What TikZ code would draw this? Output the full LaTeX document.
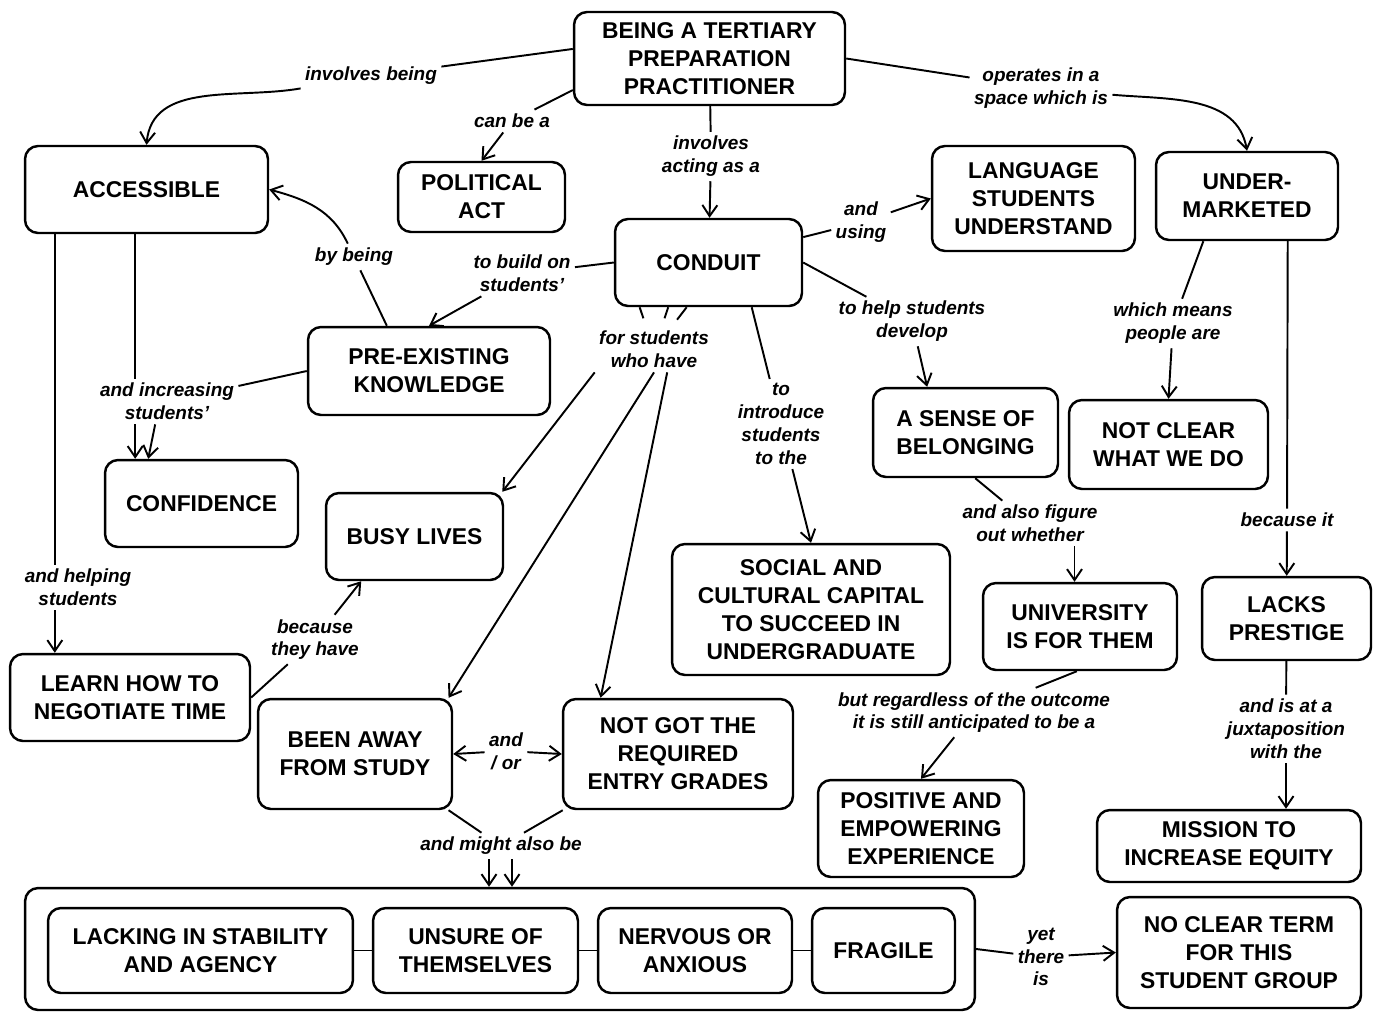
\documentclass[tikz,border=0pt]{standalone}
\usepackage{fontspec}
\setmainfont{Liberation Sans}
\usetikzlibrary{arrows.meta, positioning}
\def\boxR{0.26cm}
\newcommand{\conceptfont}{\fontsize{13}{16}\selectfont\bfseries}
\newcommand{\linkfont}{\fontsize{10.8}{13}\selectfont\bfseries\itshape}

\begin{document}
\begin{tikzpicture}[
    x=0.02cm, y=-0.02cm,
    line width=1.1pt,
    >={Straight Barb[length=2.2mm,width=3mm]},
    concept/.style={draw, line width=1.4pt, rounded corners=\boxR, align=center, font=\conceptfont, inner sep=0pt},
    link/.style={align=center, font=\linkfont, inner sep=2pt}
]
\useasboundingbox (0,0) rectangle (1378,1012);

% concepts
\node[concept, minimum width=5.42cm, minimum height=1.86cm] (top) at (709.5,58.5) {BEING A TERTIARY\\PREPARATION\\PRACTITIONER};
\node[concept, minimum width=4.86cm, minimum height=1.74cm] (acc) at (146.5,189.5) {ACCESSIBLE};
\node[concept, minimum width=3.34cm, minimum height=1.40cm] (pol) at (481.5,197) {POLITICAL\\ACT};
\node[concept, minimum width=3.74cm, minimum height=1.74cm] (con) at (708.5,262.5) {CONDUIT};
\node[concept, minimum width=4.06cm, minimum height=2.10cm] (lang) at (1033.5,198.5) {LANGUAGE\\STUDENTS\\UNDERSTAND};
\node[concept, minimum width=3.64cm, minimum height=1.76cm] (und) at (1247,196) {UNDER-\\MARKETED};
\node[concept, minimum width=4.84cm, minimum height=1.76cm] (pre) at (429,371) {PRE-EXISTING\\KNOWLEDGE};
\node[concept, minimum width=3.86cm, minimum height=1.74cm] (conf) at (201.5,503.5) {CONFIDENCE};
\node[concept, minimum width=3.54cm, minimum height=1.74cm] (busy) at (414.5,536.5) {BUSY LIVES};
\node[concept, minimum width=3.70cm, minimum height=1.78cm] (bel) at (965.5,432.5) {A SENSE OF\\BELONGING};
\node[concept, minimum width=3.98cm, minimum height=1.78cm] (nc) at (1168.5,444.5) {NOT CLEAR\\WHAT WE DO};
\node[concept, minimum width=5.56cm, minimum height=2.62cm] (soc) at (811,609.5) {SOCIAL AND\\CULTURAL CAPITAL\\TO SUCCEED IN\\UNDERGRADUATE};
\node[concept, minimum width=3.88cm, minimum height=1.74cm] (univ) at (1080,626.5) {UNIVERSITY\\IS FOR THEM};
\node[concept, minimum width=3.38cm, minimum height=1.66cm] (lacks) at (1286.5,618.5) {LACKS\\PRESTIGE};
\node[concept, minimum width=4.80cm, minimum height=1.74cm] (learn) at (130,697.5) {LEARN HOW TO\\NEGOTIATE TIME};
\node[concept, minimum width=3.88cm, minimum height=2.20cm] (been) at (355,754) {BEEN AWAY\\FROM STUDY};
\node[concept, minimum width=4.60cm, minimum height=2.20cm] (notgot) at (678,754) {NOT GOT THE\\REQUIRED\\ENTRY GRADES};
\node[concept, minimum width=4.12cm, minimum height=1.94cm] (pos) at (921,828.5) {POSITIVE AND\\EMPOWERING\\EXPERIENCE};
\node[concept, minimum width=5.28cm, minimum height=1.44cm] (mis) at (1229,846) {MISSION TO\\INCREASE EQUITY};
\node[concept, minimum width=19.0cm, minimum height=2.44cm] (grp) at (500,949) {};
\node[concept, minimum width=6.10cm, minimum height=1.70cm] (lack) at (200.5,950.5) {LACKING IN STABILITY\\AND AGENCY};
\node[concept, minimum width=4.10cm, minimum height=1.70cm] (uns) at (475.5,950.5) {UNSURE OF\\THEMSELVES};
\node[concept, minimum width=3.88cm, minimum height=1.70cm] (nerv) at (695,950.5) {NERVOUS OR\\ANXIOUS};
\node[concept, minimum width=2.86cm, minimum height=1.70cm] (frag) at (883.5,950.5) {FRAGILE};
\node[concept, minimum width=4.88cm, minimum height=2.22cm] (nct) at (1239,952.5) {NO CLEAR TERM\\FOR THIS\\STUDENT GROUP};

% linking phrases
\node[link] (lInvB) at (371,76) {involves being};
\node[link] (lCan) at (512,121) {can be a};
\node[link] (lAct) at (711,156.5) {involves\\acting as a};
\node[link] (lOp) at (1041,88.5) {operates in a\\space which is};
\node[link] (lUse) at (861,222.5) {and\\using};
\node[link] (lBuild) at (522,273.5) {to build on\\students'};
\node[link] (lBy) at (354,257) {by being};
\node[link] (lFor) at (654,349.5) {for students\\who have};
\node[link] (lHelp) at (912,321.5) {to help students\\develop};
\node[link] (lMeans) at (1173,323.5) {which means\\people are};
\node[link] (lInc) at (167,401.5) {and increasing\\students'};
\node[link] (lIntro) at (781,424) {to\\introduce\\students\\to the};
\node[link] (lFig) at (1030,523.5) {and also figure\\out whether};
\node[link] (lBec) at (1287,520) {because it};
\node[link] (lHS) at (78,587.5) {and helping\\students};
\node[link] (lThey) at (315,639.5) {because\\they have};
\node[link] (lOr) at (506,751) {and\\/ or};
\node[link] (lReg) at (974,712.5) {but regardless of the outcome\\it is still anticipated to be a};
\node[link] (lJux) at (1286,729) {and is at a\\juxtaposition\\with the};
\node[link] (lMight) at (501,846) {and might also be};
\node[link] (lYet) at (1041,957) {yet\\there\\is};

% practitioner
\draw (top.176) -- (lInvB);
\draw[->] (lInvB) to[out=190, in=85] (acc.north);
\draw (top.193) -- (lCan);
\draw[->] (lCan) -- (pol.north);
\draw (top) -- (lAct);
\draw[->] (lAct) -- (con);
\draw (top.east) -- (lOp);
\draw[->] (lOp) to[out=-5, in=100] (und.north);

% conduit
\draw (con.15) -- (lUse);
\draw[->] (lUse) -- (lang.west);
\draw (con.west) -- (lBuild);
\draw[->] (lBuild) -- (pre.north);
\draw (con.east) -- (lHelp);
\draw[->] (lHelp) -- (bel.130);
\draw (con.314) -- (lIntro);
\draw[->] (lIntro) -- (soc.north);
\foreach \a in {213,228,244} \draw[shorten >=5pt] (con.\a) -- (lFor);
\draw[->] (lFor.south west) -- (busy.27);
\draw[->] (lFor.south) -- (been.31);
\draw[->] (lFor.300) -- (notgot.144);

% accessible
\draw (pre.133) -- (lBy);
\draw[->] (lBy) to[out=115, in=-15] (acc.east);
\draw (pre.west) -- (lInc);
\draw (acc.256) -- (acc.256 |- lInc.north);
\draw[->] (lInc.south -| conf.146) -- (conf.146);
\draw[->] (lInc.south -| conf.136) -- (conf.140);
\draw (acc.206) -- (acc.206 |- lHS.north);
\draw[->] (lHS.south -| acc.206) -- (learn.north -| acc.206);
\draw (learn.east) -- (lThey);
\draw[->] (lThey) -- (busy.220);

% under-marketed
\draw (und.226) -- (lMeans);
\draw[->] (lMeans) -- (nc.north);
\draw (und.-48) -- (lBec);
\draw[->] (lBec) -- (lacks);
\draw (lacks) -- (lJux);
\draw[->] (lJux) -- (lJux |- mis.north);

% belonging
\draw (bel.-78) -- (lFig);
\draw[->] (lFig.south -| univ.97) -- (univ.97);
\draw (univ.266) -- (lReg);
\draw[->] (lReg) -- (pos.north);

% students
\draw[->] (lOr) -- (been.east);
\draw[->] (lOr) -- (notgot.west);
\draw (been.-31) -- (lMight);
\draw (notgot.206) -- (lMight);
\coordinate (m1) at ([xshift=-0.24cm]lMight.south);
\coordinate (m2) at ([xshift=0.22cm]lMight.south);
\draw[->] (m1) -- (m1 |- grp.north);
\draw[->] (m2) -- (m2 |- grp.north);
\draw (lack) -- (uns);
\draw (uns) -- (nerv);
\draw (nerv) -- (frag);
\draw (grp.east) -- (lYet);
\draw[->] (lYet) -- (nct.west);
\end{tikzpicture}
\end{document}
